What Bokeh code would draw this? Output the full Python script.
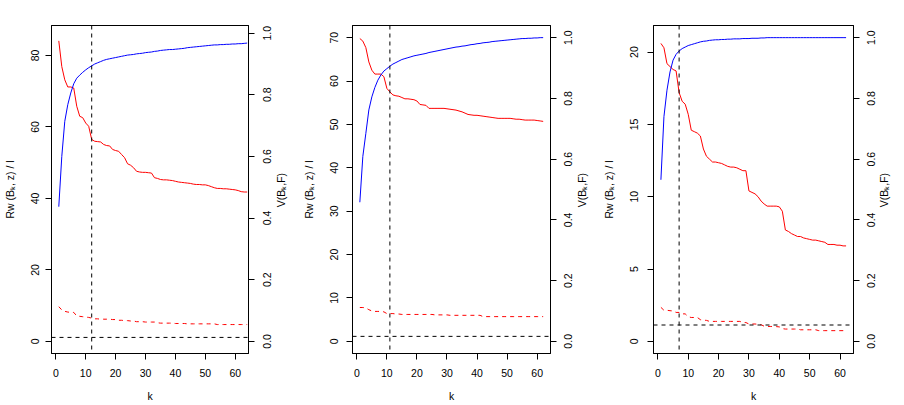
import math
from bokeh.plotting import figure
from bokeh.models import Range1d, LinearAxis, FixedTicker, Span, CustomJSTickFormatter
from bokeh.layouts import row
from bokeh.embed import file_html
from bokeh.resources import INLINE

# ---------------- data ----------------
k_1 = list(range(1, 65))
rw_1 = [84.1, 76.9, 73.2, 71.2, 71.2, 70.9, 65.8, 63.0, 62.6, 61.1,
        60.2, 56.5, 56.0, 55.9, 55.8, 55.1, 54.8, 54.7, 53.7, 53.4,
        53.2, 52.3, 51.4, 49.7, 49.3, 48.6, 47.6, 47.4, 47.3, 47.3,
        47.2, 47.1, 45.8, 45.6, 45.3, 45.2, 45.2, 45.1, 45.0, 44.8,
        44.6, 44.5, 44.4, 44.3, 44.2, 44.0, 43.9, 43.9, 43.8, 43.8,
        43.6, 43.3, 43.0, 42.8, 42.8, 42.7, 42.7, 42.6, 42.5, 42.4,
        42.2, 41.9, 41.8, 41.8]
rwd_1 = [9.7, 8.8, 8.4, 8.2, 8.1, 8.1, 7.1, 7.0, 6.9, 6.8,
         6.7, 6.5, 6.3, 6.3, 6.2, 6.2, 6.2, 6.2, 6.1, 6.1,
         5.9, 5.9, 5.8, 5.8, 5.7, 5.7, 5.5, 5.5, 5.5, 5.4,
         5.4, 5.4, 5.4, 5.2, 5.1, 5.1, 5.1, 5.1, 5.1, 5.0,
         5.0, 5.0, 5.0, 4.9, 4.9, 4.9, 4.9, 4.9, 4.9, 4.9,
         4.9, 4.9, 4.9, 4.7, 4.7, 4.7, 4.7, 4.7, 4.7, 4.7,
         4.7, 4.7, 4.7, 4.7]
v_1 = [0.437, 0.600, 0.714, 0.768, 0.806, 0.836, 0.854, 0.864, 0.873, 0.881,
       0.888, 0.894, 0.900, 0.904, 0.908, 0.912, 0.915, 0.917, 0.919, 0.921,
       0.923, 0.925, 0.927, 0.929, 0.930, 0.931, 0.933, 0.934, 0.935, 0.937,
       0.938, 0.939, 0.941, 0.942, 0.944, 0.945, 0.946, 0.947, 0.947, 0.948,
       0.949, 0.950, 0.951, 0.953, 0.954, 0.955, 0.956, 0.957, 0.958, 0.959,
       0.960, 0.961, 0.962, 0.962, 0.963, 0.963, 0.964, 0.964, 0.965, 0.965,
       0.966, 0.966, 0.967, 0.968]

k_2 = list(range(1, 63))
rw_2 = [69.8, 69.2, 67.7, 64.4, 62.5, 61.6, 61.6, 61.6, 61.0, 58.3,
        57.5, 56.8, 56.6, 56.5, 56.2, 55.9, 55.9, 55.8, 55.7, 55.4,
        54.6, 54.5, 54.4, 53.7, 53.7, 53.7, 53.7, 53.7, 53.7, 53.6,
        53.5, 53.4, 53.3, 53.1, 52.9, 52.6, 52.3, 52.2, 52.1, 52.1,
        52.0, 51.9, 51.8, 51.7, 51.6, 51.5, 51.4, 51.4, 51.4, 51.4,
        51.4, 51.3, 51.2, 51.2, 51.1, 51.0, 51.0, 51.0, 51.0, 50.9,
        50.8, 50.7]
rwd_2 = [7.8, 7.8, 7.7, 7.3, 7.0, 6.9, 6.9, 6.9, 6.8, 6.4,
         6.4, 6.4, 6.3, 6.3, 6.2, 6.2, 6.2, 6.2, 6.2, 6.2,
         6.2, 6.2, 6.2, 6.2, 6.2, 6.1, 6.1, 6.1, 6.1, 6.1,
         6.0, 6.0, 6.0, 6.0, 6.0, 6.0, 6.0, 6.0, 6.0, 6.0,
         6.0, 5.7, 5.7, 5.7, 5.7, 5.7, 5.7, 5.7, 5.7, 5.7,
         5.7, 5.7, 5.7, 5.7, 5.7, 5.7, 5.7, 5.7, 5.7, 5.7,
         5.7, 5.7]
v_2 = [0.458, 0.609, 0.685, 0.762, 0.805, 0.836, 0.860, 0.877, 0.890, 0.898,
       0.906, 0.913, 0.918, 0.923, 0.928, 0.931, 0.934, 0.937, 0.940, 0.942,
       0.944, 0.946, 0.948, 0.951, 0.953, 0.955, 0.957, 0.959, 0.961, 0.963,
       0.965, 0.967, 0.969, 0.970, 0.972, 0.973, 0.975, 0.977, 0.978, 0.980,
       0.981, 0.983, 0.984, 0.985, 0.987, 0.988, 0.989, 0.990, 0.991, 0.992,
       0.993, 0.994, 0.995, 0.996, 0.997, 0.997, 0.998, 0.998, 0.999, 0.999,
       1.000, 1.000]

k_3 = list(range(1, 63))
rw_3 = [20.6, 20.3, 19.2, 19.0, 18.8, 18.7, 17.2, 16.6, 16.4, 15.7,
        14.6, 14.5, 14.4, 14.2, 13.3, 12.8, 12.6, 12.4, 12.4, 12.35,
        12.3, 12.2, 12.1, 12.05, 12.05, 12.0, 11.9, 11.8, 11.8, 10.4,
        10.3, 10.2, 10.0, 9.7, 9.5, 9.35, 9.35, 9.35, 9.35, 9.3,
        9.0, 7.7, 7.6, 7.45, 7.35, 7.25, 7.25, 7.15, 7.1, 7.05,
        7.0, 7.0, 6.95, 6.9, 6.85, 6.7, 6.7, 6.7, 6.65, 6.65,
        6.6, 6.6]
rwd_3 = [2.35, 2.15, 2.15, 2.12, 2.1, 2.0, 2.0, 1.9, 1.9, 1.7,
         1.65, 1.65, 1.65, 1.5, 1.47, 1.45, 1.38, 1.38, 1.38, 1.38,
         1.38, 1.38, 1.38, 1.38, 1.38, 1.38, 1.38, 1.3, 1.3, 1.2,
         1.2, 1.2, 1.18, 1.15, 1.05, 1.03, 1.03, 1.03, 1.02, 1.0,
         0.88, 0.85, 0.85, 0.85, 0.85, 0.85, 0.8, 0.8, 0.8, 0.8,
         0.8, 0.8, 0.74, 0.74, 0.74, 0.74, 0.74, 0.74, 0.74, 0.74,
         0.74, 0.74]
v_3 = [0.532, 0.740, 0.827, 0.887, 0.926, 0.945, 0.956, 0.964, 0.969, 0.974,
       0.977, 0.980, 0.983, 0.986, 0.988, 0.989, 0.991, 0.992, 0.993, 0.993,
       0.994, 0.994, 0.995, 0.995, 0.996, 0.996, 0.996, 0.997, 0.997, 0.997,
       0.998, 0.998, 0.998, 0.999, 0.999, 1.0, 1.0, 1.0, 1.0, 1.0,
       1.0, 1.0, 1.0, 1.0, 1.0, 1.0, 1.0, 1.0, 1.0, 1.0,
       1.0, 1.0, 1.0, 1.0, 1.0, 1.0, 1.0, 1.0, 1.0, 1.0,
       1.0, 1.0]

k_star = [12, 11, 7]
h_line = [1.1, 1.15, 1.13]
x_ticks = [0, 10, 20, 30, 40, 50, 60]
y_ticks_1 = [0, 20, 40, 60, 80]
y_ticks_2 = [0, 10, 20, 30, 40, 50, 60, 70]
y_ticks_3 = [0, 5, 10, 15, 20]
v_ticks = [0.0, 0.2, 0.4, 0.6, 0.8, 1.0]

LEFT_TITLE = "Rw (Bₖ, z) / l"
RIGHT_TITLE = "V(Bₖ,F)"
X_TITLE = "k"

FONT = "Liberation Sans"
FS = "10.5px"
X_RANGE = (-1.44, 64.44)
FRAME_H = 329
TICK_HALF_PX = 7.3     # half length of a "0.0" label
TITLE_HALF_PX = 17.8   # half length of the right title


def style_axis(ax, ticks, lab_standoff, title_standoff):
    ax.ticker = FixedTicker(ticks=ticks)
    ax.minor_tick_line_color = None
    ax.major_tick_in = 0
    ax.major_tick_out = 6
    ax.major_tick_line_color = "black"
    ax.axis_line_color = "black"
    ax.major_label_text_font = FONT
    ax.major_label_text_font_size = FS
    ax.major_label_text_color = "black"
    ax.axis_label_text_font = FONT
    ax.axis_label_text_font_size = FS
    ax.axis_label_text_font_style = "normal"
    ax.axis_label_text_color = "black"
    ax.major_label_standoff = lab_standoff
    ax.axis_label_standoff = title_standoff


def text_axis(ticks, code, args, standoff):
    ax = LinearAxis(y_range_name="v")
    style_axis(ax, ticks, standoff, 0)
    ax.major_tick_out = 0
    ax.major_tick_line_color = None
    ax.axis_line_color = None
    ax.formatter = CustomJSTickFormatter(args=args, code=code)
    ax.major_label_orientation = math.pi / 2
    return ax


def panel(k, rw, rwd, v, kstar, hline, yl, yr, yticks, width, bl, br,
          l_lab, l_tit, r_lab, r_tit):
    p = figure(width=width, height=404, output_backend="svg", toolbar_location=None,
               x_range=Range1d(*X_RANGE), y_range=Range1d(*yl),
               min_border_left=bl, min_border_right=br,
               min_border_top=25, min_border_bottom=50)
    p.extra_y_ranges = {"v": Range1d(*yr)}
    p.xgrid.visible = False
    p.ygrid.visible = False
    p.outline_line_color = "black"
    p.outline_line_width = 1
    p.background_fill_color = "white"
    p.border_fill_color = "white"

    style_axis(p.xaxis[0], x_ticks, 9, 10)
    p.xaxis[0].axis_label = X_TITLE

    style_axis(p.yaxis[0], yticks, l_lab, l_tit)
    p.yaxis[0].axis_label = LEFT_TITLE
    p.yaxis[0].major_label_orientation = "vertical"

    # top edge of the box
    tax = LinearAxis()
    style_axis(tax, [X_RANGE[0]], 0, 0)
    tax.major_tick_out = 0
    tax.major_tick_line_color = None
    tax.formatter = CustomJSTickFormatter(code="return ''")
    p.add_layout(tax, "above")

    # right axis: line + tick marks at the true values
    rax = LinearAxis(y_range_name="v")
    style_axis(rax, v_ticks, 0, 0)
    rax.formatter = CustomJSTickFormatter(code="return ''")
    p.add_layout(rax, "right")

    # right-axis texts, rotated to read bottom-to-top; rotated labels are
    # start-anchored, so they are placed half a text length lower to be centred
    pxu = FRAME_H / (yr[1] - yr[0])
    d = TICK_HALF_PX / pxu
    lax = text_axis([t - d for t in v_ticks], "return (tick + d).toFixed(1)", dict(d=d), r_lab)
    p.add_layout(lax, "right")
    c = (yr[0] + yr[1]) / 2 - TITLE_HALF_PX / pxu
    ttl = text_axis([c], "return t", dict(t=RIGHT_TITLE), r_tit)
    p.add_layout(ttl, "right")

    p.line(k, rw, line_color="#FF0000", line_width=1)
    p.line(k, rwd, line_color="#FF0000", line_width=1, line_dash="4 4")
    p.line(k, v, line_color="#0000FF", line_width=1, y_range_name="v")
    p.add_layout(Span(location=kstar, dimension="height", line_color="black",
                      line_width=1, line_dash="4 4"))
    p.add_layout(Span(location=hline, dimension="width", line_color="black",
                      line_width=1, line_dash="4 4"))
    return p


p1 = panel(k_1, rw_1, rwd_1, v_1, k_star[0], h_line[0], (-3.4, 88.4), (-0.0394, 1.025),
           y_ticks_1, 296, 50, 46, 6, 13, 13, 3)
p2 = panel(k_2, rw_2, rwd_2, v_2, k_star[1], h_line[1], (-2.8, 72.8), (-0.04, 1.04),
           y_ticks_2, 301, 56, 46, 8, 13, 12, 3)
p3 = panel(k_3, rw_3, rwd_3, v_3, k_star[2], h_line[2], (-0.84, 21.84), (-0.04, 1.04),
           y_ticks_3, 307, 56, 51, 9, 13, 12, 2)

layout = row(p1, p2, p3)
open("out.html", "w").write(file_html(layout, INLINE))
